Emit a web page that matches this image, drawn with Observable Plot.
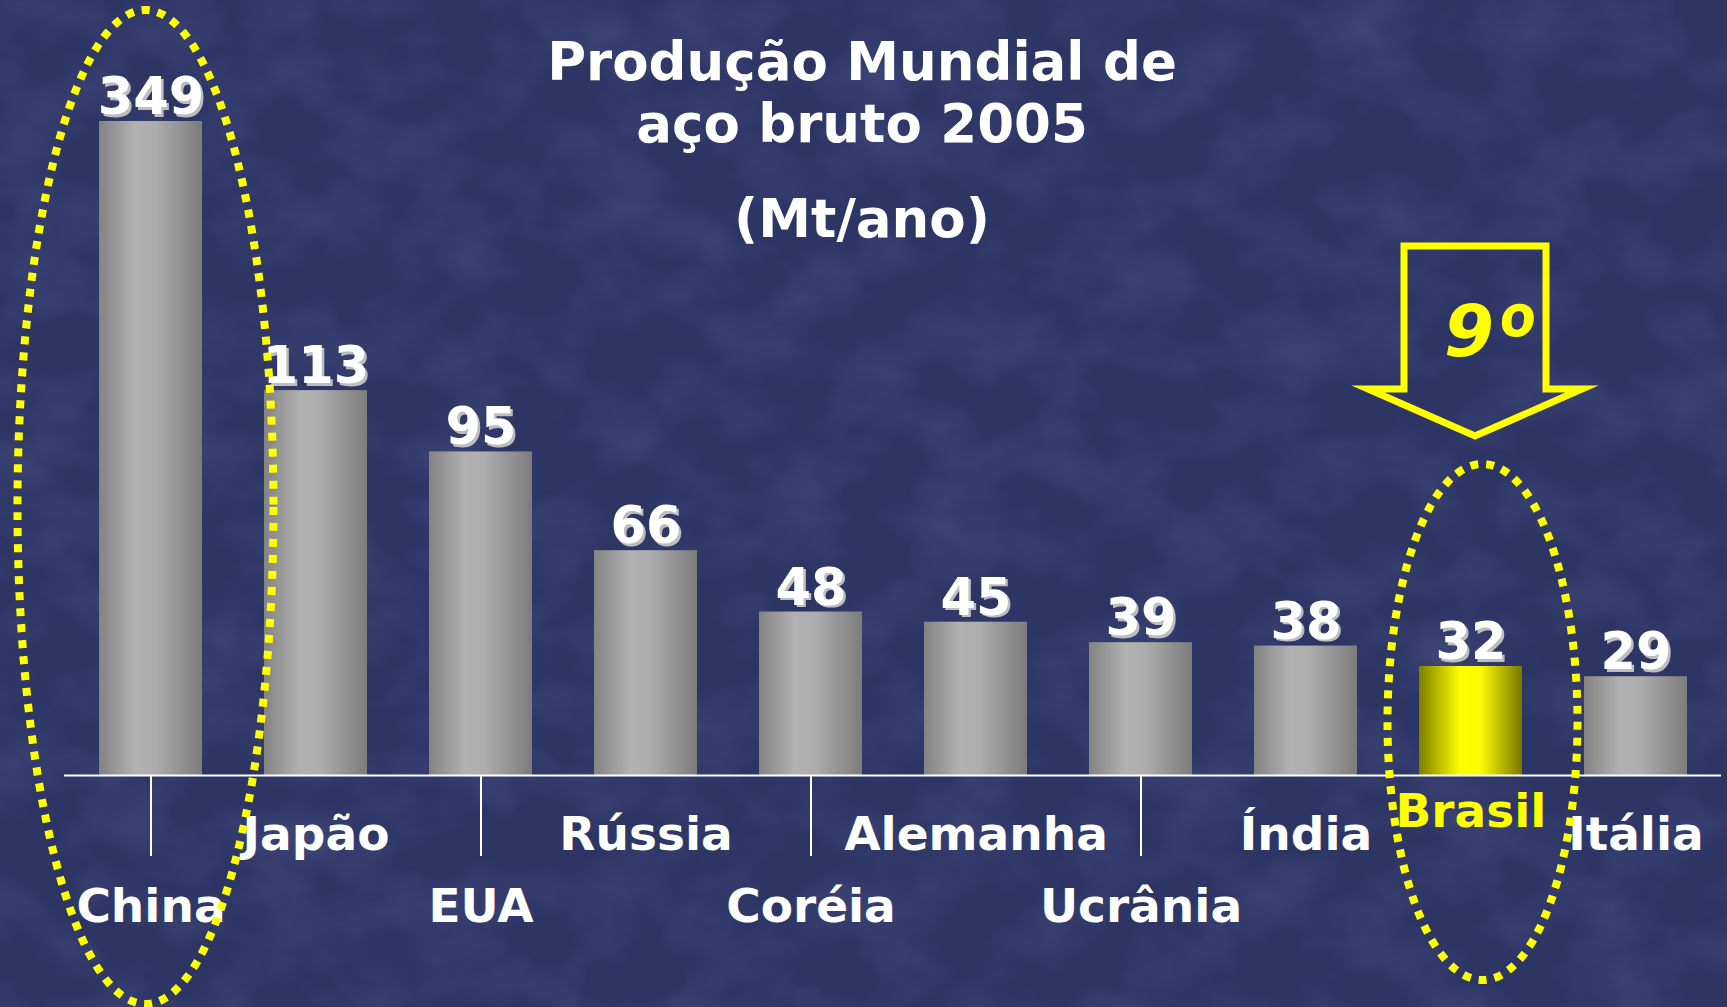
<!DOCTYPE html>
<html><head><meta charset="utf-8">
<script src="https://cdn.jsdelivr.net/npm/d3@7"></script>
<script src="https://cdn.jsdelivr.net/npm/@observablehq/plot@0.6"></script>
<style>
html,body{margin:0;padding:0;background:#29315f;overflow:hidden;}
#chart{position:relative;width:1727px;height:1007px;}
#chart svg{display:block;}
</style></head><body><div id="chart"></div>
<script>
// ---- data ----
const countries = ["China","Japão","EUA","Rússia","Coréia","Alemanha","Ucrânia","Índia","Brasil","Itália"];
const production = [349,113,95,66,48,45,39,38,32,29];
const lowerRowLabels = ["China","EUA","Coréia","Ucrânia"];
const highlightCountry = "Brasil";
const highlightRank = "9º";
const circledCountries = ["China","Brasil"];
const titleLines = ["Produção Mundial de","aço bruto 2005","(Mt/ano)"];

const data = countries.map((c,i)=>({
  country:c, value:production[i],
  row: c===highlightCountry ? "highlight" : (lowerRowLabels.includes(c) ? "lower" : "upper")
}));

const W = 1727, H = 1007;
const FONT = "'DejaVu Sans', Verdana, sans-serif";

function decor(){
  const g = d3.create("svg:g");
  const defs = g.append("defs");
  const gg = defs.append("linearGradient").attr("id","gradGray").attr("x1","0").attr("x2","1").attr("y1","0").attr("y2","0");
  [["0%","#838383"],["35%","#b1b1b1"],["55%","#acacac"],["100%","#7c7c7c"]].forEach(([o,c])=>gg.append("stop").attr("offset",o).attr("stop-color",c));
  const gy = defs.append("linearGradient").attr("id","gradYellow").attr("x1","0").attr("x2","1").attr("y1","0").attr("y2","0");
  [["0%","#7e7e00"],["40%","#ffff00"],["60%","#fafa00"],["100%","#787800"]].forEach(([o,c])=>gy.append("stop").attr("offset",o).attr("stop-color",c));
  const f = defs.append("filter").attr("id","noise").attr("x","0").attr("y","0").attr("width","100%").attr("height","100%");
  f.append("feTurbulence").attr("type","fractalNoise").attr("baseFrequency","0.012 0.016").attr("numOctaves",3).attr("seed",7);
  f.append("feColorMatrix").attr("type","matrix").attr("values","0 0 0 0 0.07  0 0 0 0 0.09  0 0 0 0 0.24  1.4 0 0 0 -0.55");
  g.append("rect").attr("x",0).attr("y",0).attr("width",W).attr("height",H).attr("fill","#2c3564");
  g.append("rect").attr("x",0).attr("y",0).attr("width",W).attr("height",H).attr("filter","url(#noise)").attr("opacity",0.75);
  return g.node();
}

const labelStyle = {fontFamily: FONT, fontWeight: "bold", fontSize: 47, lineAnchor: "bottom", frameAnchor: "bottom"};
const titleStyle = {fontFamily: FONT, fontWeight: "bold", fontSize: 53, lineAnchor: "bottom", frameAnchor: "top", fill: "white", dx: -31};

const plot = Plot.plot({
  width: W, height: H,
  marginTop: 121, marginBottom: 232, marginLeft: 64, marginRight: 6,
  style: {background: "transparent", fontFamily: FONT, color: "white", overflow: "visible"},
  x: {domain: countries, paddingInner: 0.376, paddingOuter: 0.185, axis: null},
  y: {domain: [0, 192], clamp: true, axis: null},
  marks: [
    decor,
    Plot.barY(data.filter(d=>d.country!==highlightCountry), {x:"country", y:"value", fill:"url(#gradGray)"}),
    Plot.barY(data.filter(d=>d.country===highlightCountry), {x:"country", y:"value", fill:"url(#gradYellow)"}),
    Plot.ruleY([0], {stroke:"white", strokeWidth:2}),
    Plot.axisX({ticks: lowerRowLabels, tickSize: 81, tickFormat: () => "", stroke: "white", strokeWidth: 2, label: null}),
    // value labels with shadow
    Plot.text(data, {x:"country", y:"value", text: d=>String(d.value), lineAnchor:"bottom", dy:-5, dx:2.5, fill:"#bdbdbd", fontFamily: FONT, fontWeight:"bold", fontSize:51}),
    Plot.text(data, {x:"country", y:"value", text: d=>String(d.value), lineAnchor:"bottom", dy:-7.5, fill:"white", fontFamily: FONT, fontWeight:"bold", fontSize:51}),
    // category labels, staggered
    Plot.text(data.filter(d=>d.row==="upper"), {x:"country", text:"country", dy:74, fill:"white", ...labelStyle}),
    Plot.text(data.filter(d=>d.row==="lower"), {x:"country", text:"country", dy:146, fill:"white", ...labelStyle}),
    Plot.text(data.filter(d=>d.row==="highlight"), {x:"country", text:"country", dy:51, fill:"#ffff00", ...labelStyle}),
    // title
    Plot.text([titleLines[0]], {...titleStyle, dy:-42}),
    Plot.text([titleLines[1]], {...titleStyle, dy:20}),
    Plot.text([titleLines[2]], {...titleStyle, dy:115}),
    // rank
    Plot.text([{country: highlightCountry, rank: highlightRank}], {x:"country", text:"rank", frameAnchor:"top", lineAnchor:"bottom", dy:234, dx:18, fill:"#ffff00", fontFamily: FONT, fontWeight:"bold", fontStyle:"italic", fontSize:72})
  ]
});

document.getElementById("chart").appendChild(plot);

// render the ordinal indicator of the rank with a face whose º has no bar
d3.select(plot).selectAll("text").filter(function(){ return this.textContent === highlightRank; }).each(function(){
  const t = d3.select(this);
  t.text(null);
  t.append("tspan").text(highlightRank.slice(0, -1));
  t.append("tspan").text(highlightRank.slice(-1)).attr("font-family", "Lato, Roboto, sans-serif").attr("font-size", 104).attr("dx", 1).attr("dy", 24);
});

// annotations anchored to the library's scales
const xs = plot.scale("x"), ys = plot.scale("y");
const bandCenter = c => xs.apply(c) + xs.bandwidth/2;
const base = ys.apply(0);
const svgSel = d3.select(plot);
const ann = svgSel.append("g").attr("fill","none").attr("stroke","#ffff00");
const ellipses = {China: {dx:-5, dy:-268, rx:128, ry:497}, Brasil: {dx:12, dy:-53, rx:95, ry:258}};
circledCountries.forEach(c=>{
  const e = ellipses[c];
  ann.append("ellipse").attr("cx", bandCenter(c)+e.dx).attr("cy", base+e.dy).attr("rx", e.rx).attr("ry", e.ry)
    .attr("stroke-width", 8).attr("stroke-dasharray","8 8");
});
const bx = bandCenter(highlightCountry) + 4.5;
const arrowTop = base-529, arrowWing = base-386, arrowTip = base-339;
ann.append("path")
  .attr("d", `M${bx-71},${arrowTop}L${bx+71},${arrowTop}L${bx+71},${arrowWing}L${bx+107},${arrowWing}L${bx},${arrowTip}L${bx-107},${arrowWing}L${bx-71},${arrowWing}Z`)
  .attr("stroke-width", 7).attr("stroke-miterlimit", 12).attr("stroke-linejoin","miter");
</script>
</body></html>
